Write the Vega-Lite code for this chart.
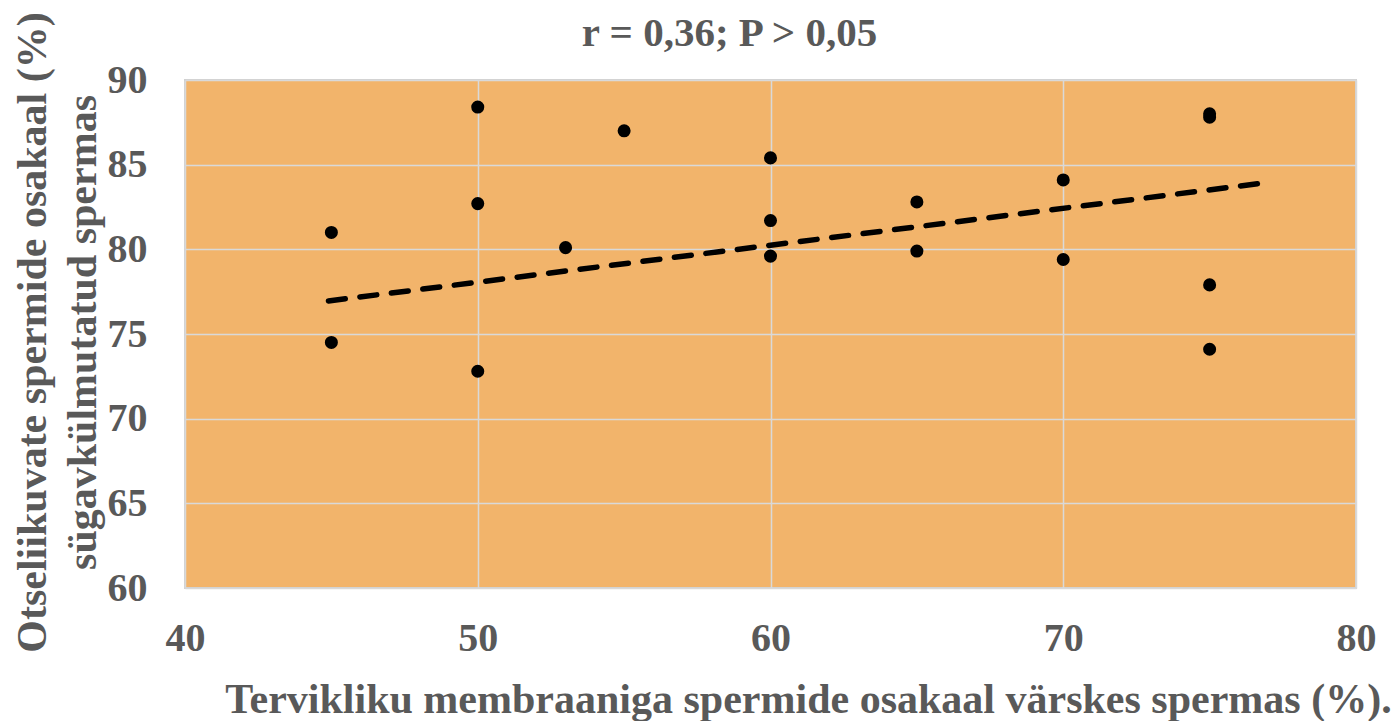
{
  "$schema": "https://vega.github.io/schema/vega-lite/v6.json",
  "autosize": "none",
  "width": 1171,
  "height": 508,
  "padding": {"left": 185, "top": 80, "right": 36, "bottom": 133},
  "background": "#FFFFFF",
  "title": {
    "text": "r = 0,36; P > 0,05",
    "font": "Liberation Serif",
    "fontSize": 41,
    "fontWeight": "bold",
    "color": "#595959",
    "anchor": "middle",
    "baseline": "alphabetic",
    "offset": 20,
    "dx": -41,
    "dy": 95
  },
  "config": {
    "view": {"fill": "#F2B46B", "stroke": "#D0D0D0", "strokeWidth": 2},
    "axis": {
      "labelFont": "Liberation Serif",
      "labelFontSize": 40,
      "labelFontWeight": "bold",
      "labelColor": "#595959",
      "titleFont": "Liberation Serif",
      "titleFontSize": 42,
      "titleFontWeight": "bold",
      "titleColor": "#595959",
      "domain": false,
      "ticks": false,
      "tickSize": 0,
      "gridColor": "#D9D9D9",
      "gridWidth": 1.5
    }
  },
  "datasets": {
    "points": [
      {"x": 45, "y": 81.0},
      {"x": 45, "y": 74.5},
      {"x": 50, "y": 88.4},
      {"x": 50, "y": 82.7},
      {"x": 50, "y": 72.8},
      {"x": 53, "y": 80.1},
      {"x": 55, "y": 87.0},
      {"x": 60, "y": 85.4},
      {"x": 60, "y": 81.7},
      {"x": 60, "y": 79.6},
      {"x": 65, "y": 82.8},
      {"x": 65, "y": 79.9},
      {"x": 70, "y": 84.1},
      {"x": 70, "y": 79.4},
      {"x": 75, "y": 88.0},
      {"x": 75, "y": 87.8},
      {"x": 75, "y": 77.9},
      {"x": 75, "y": 74.1}
    ],
    "trend": [
      {"x": 44.9, "y": 76.95},
      {"x": 77.1, "y": 83.97}
    ]
  },
  "layer": [
    {
      "data": {"name": "trend"},
      "mark": {"type": "line", "color": "#000000", "strokeWidth": 5.5, "strokeDash": [17, 14.7], "strokeCap": "round"},
      "encoding": {
        "x": {"field": "x", "type": "quantitative", "scale": {"domain": [40, 80], "nice": false}},
        "y": {"field": "y", "type": "quantitative", "scale": {"domain": [60, 90], "nice": false}}
      }
    },
    {
      "data": {"name": "points"},
      "mark": {"type": "point", "shape": "circle", "filled": true, "color": "#000000", "size": 170, "opacity": 1},
      "encoding": {
        "x": {
          "field": "x", "type": "quantitative",
          "scale": {"domain": [40, 80], "nice": false},
          "axis": {
            "values": [40, 50, 60, 70, 80],
            "labelPadding": 30,
            "labelBaseline": "top",
            "labelFlush": false,
            "title": "Tervikliku membraaniga spermide osakaal värskes spermas (%).",
            "titleX": 623,
            "titleY": 124,
            "titleAlign": "center",
            "titleBaseline": "alphabetic"
          }
        },
        "y": {
          "field": "y", "type": "quantitative",
          "scale": {"domain": [60, 90], "nice": false},
          "axis": {
            "values": [60, 65, 70, 75, 80, 85, 90],
            "labelPadding": 38,
            "labelBaseline": "middle",
            "labelFlush": false,
            "title": ["Otseliikuvate spermide osakaal (%)", "sügavkülmutatud spermas"],
            "titleAngle": -90,
            "titleX": -140,
            "titleY": 252,
            "titleAlign": "center",
            "titleBaseline": "alphabetic",
            "titleLineHeight": 50
          }
        }
      }
    }
  ]
}
